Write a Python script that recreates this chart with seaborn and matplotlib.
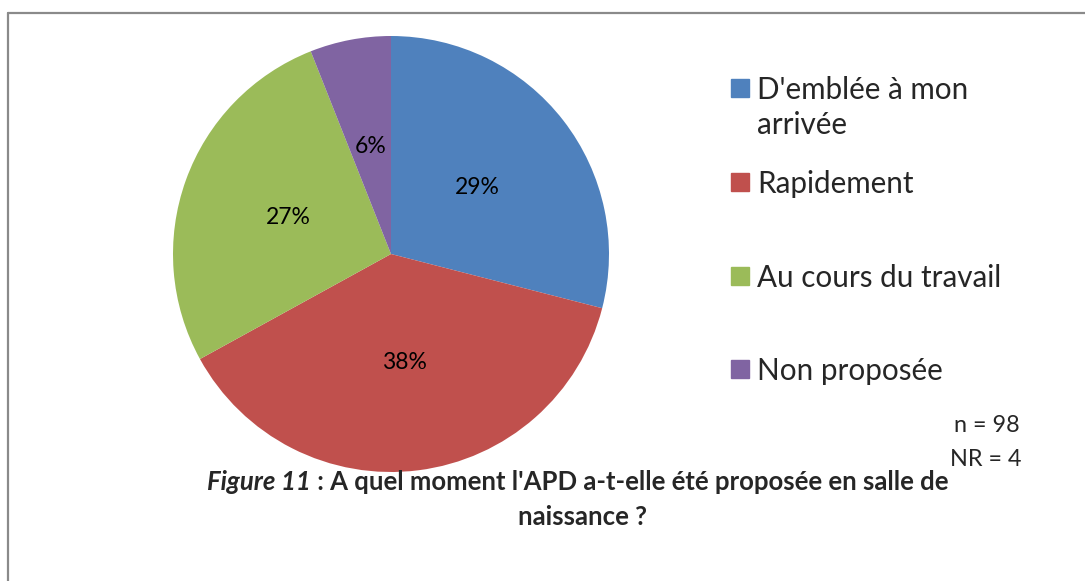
import matplotlib.pyplot as plt
import seaborn as sns
from matplotlib.patches import Rectangle
from matplotlib.lines import Line2D

sns.set_theme(style="white")
plt.rcParams['font.family'] = ['Lato', 'DejaVu Sans']

categories = ["D'emblée à mon\narrivée", "Rapidement", "Au cours du travail", "Non proposée"]
values = [29, 38, 27, 6]
colors = ['#4F81BD', '#C0504D', '#9BBB59', '#8064A2']

W, H = 1085, 581
fig = plt.figure(figsize=(W / 100, H / 100), dpi=100)
fig.patch.set_facecolor('white')

# pie axes: center ~ (391, 254) px, radius ~218 px
r = 218
cx, cy = 391, 254
ax = fig.add_axes([(cx - r) / W, (H - cy - r) / H, 2 * r / W, 2 * r / H])
ax.pie(values, colors=colors, startangle=90, counterclock=False,
       autopct='%1.0f%%', pctdistance=0.5,
       textprops={'fontsize': 16.5, 'color': 'black'},
       wedgeprops={'linewidth': 0})
ax.set_xlim(-1, 1)
ax.set_ylim(-1, 1)
ax.set_aspect('equal')
ax.axis('off')

# legend (manual placement)
leg_y = [88, 182, 276, 369]
for lab, col, y in zip(categories, colors, leg_y):
    fig.patches.append(Rectangle((731 / W, (H - y - 9) / H), 18 / W, 18 / H,
                                 transform=fig.transFigure, color=col))
    fig.text(757 / W, (H - y + 12) / H, lab, fontsize=21.3, va='top',
             ha='left', linespacing=1.32)

fig.text(987 / W, (H - 425) / H, 'n = 98', fontsize=16.8, ha='center', va='center')
fig.text(986 / W, (H - 460) / H, 'NR = 4', fontsize=16.8, ha='center', va='center')

# caption
fig.text(311 / W, (H - 482) / H, 'Figure 11', fontsize=18.5, fontweight='bold',
         fontstyle='italic', ha='right', va='center')
fig.text(311 / W, (H - 482) / H, " : A quel moment l'APD a-t-elle été proposée en salle de",
         fontsize=18.5, fontweight='bold', ha='left', va='center')
fig.text(583 / W, (H - 517) / H, 'naissance ?', fontsize=18.5, fontweight='bold',
         ha='center', va='center')

# frame
fig.lines.append(Line2D([8 / W, 1], [(H - 13) / H, (H - 13) / H],
                        transform=fig.transFigure, color='#8a8a8a', lw=1.6))
fig.lines.append(Line2D([8 / W, 8 / W], [0, (H - 13) / H],
                        transform=fig.transFigure, color='#8a8a8a', lw=1.6))

fig.savefig('out.png', dpi=100, facecolor='white')
